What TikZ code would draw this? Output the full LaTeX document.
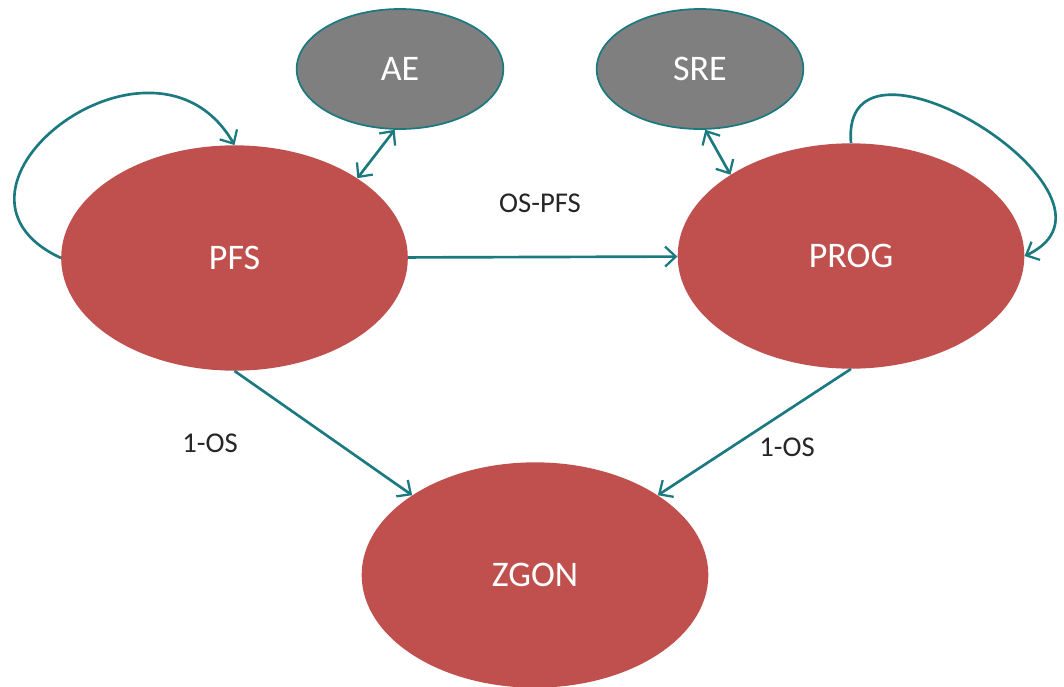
\documentclass[tikz,border=0pt]{standalone}
\usepackage{fontspec}
\setmainfont{Carlito}
\usetikzlibrary{arrows.meta,shapes.geometric}
\definecolor{stRed}{RGB}{192,80,77}
\definecolor{stGray}{RGB}{127,127,127}
\definecolor{stTeal}{RGB}{27,121,127}
\definecolor{lblGray}{RGB}{38,38,38}

\begin{document}
\begin{tikzpicture}[x=0.75pt,y=-0.75pt,
        state/.style={ellipse,fill=stRed,text=white,inner sep=0pt,minimum width=260pt,minimum height=169pt,font=\fontsize{27}{32}\selectfont},
        gstate/.style={ellipse,draw=stTeal,line width=1.3pt,fill=stGray,text=white,inner sep=0pt,minimum width=155pt,minimum height=90pt,font=\fontsize{27}{32}\selectfont},
        arrow/.style={-{Straight Barb[length=8pt,width=15pt,line width=1.7pt]},line width=2pt,draw=stTeal},
        darrow/.style={{Straight Barb[length=8pt,width=15pt,line width=1.7pt]}-{Straight Barb[length=8pt,width=15pt,line width=1.7pt]},line width=2pt,draw=stTeal},
        lbl/.style={text=lblGray,font=\fontsize{21.5}{26}\selectfont}
      ]
        \useasboundingbox (0,0) rectangle (1064,686);
        \node[state] (pfs) at (234.5,258) {PFS};
        \node[state] (prog) at (851,256) {PROG};
        \node[state] (zgon) at (535,575) {ZGON};
        \node[gstate] (ae) at (400,69) {AE};
        \node[gstate] (sre) at (700,69) {SRE};
        \draw[arrow] (pfs.west) to[out=155,in=120,looseness=2] (pfs.north);
        \draw[arrow] (prog.north) to[out=95,in=25,looseness=1.7] (prog.east);
        \draw[arrow] (pfs) -- (prog);
        \draw[darrow] (ae.265) -- (pfs.33);
        \draw[darrow] (sre.275) -- (prog.146);
        \draw[arrow] (pfs.south) -- (zgon.147);
        \draw[arrow] (prog.south) -- (zgon.33);
        \node[lbl] (lpp) at (540,203) {OS-PFS};
        \node[lbl] (lpz) at (210,443) {1-OS};
        \node[lbl] (lgz) at (787,447) {1-OS};
      \end{tikzpicture}
\end{document}
